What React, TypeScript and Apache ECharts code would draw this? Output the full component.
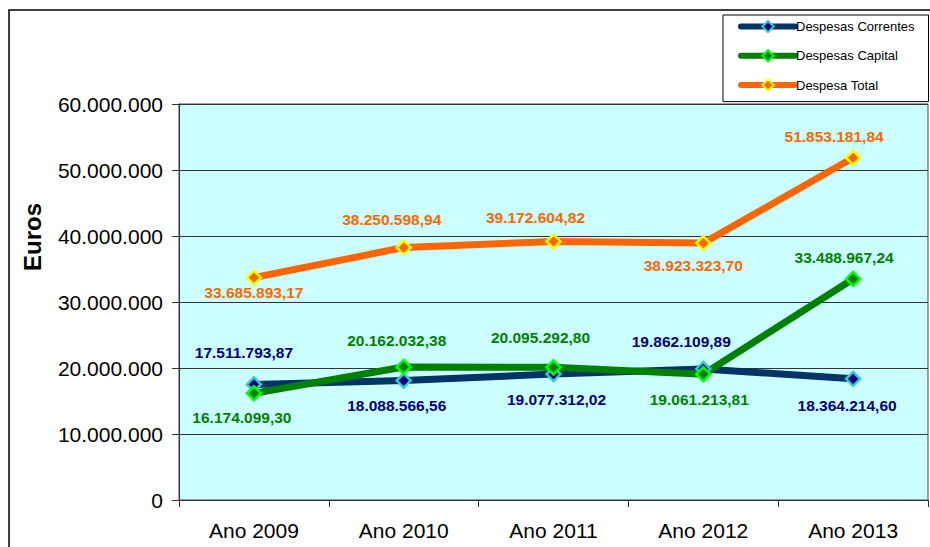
import React, { useEffect, useRef } from "react";
import * as echarts from "echarts";

const categories = ["Ano 2009", "Ano 2010", "Ano 2011", "Ano 2012", "Ano 2013"];
const correntes = [17511793.87, 18088566.56, 19077312.02, 19862109.89, 18364214.6];
const capital = [16174099.3, 20162032.38, 20095292.8, 19061213.81, 33488967.24];
const total = [33685893.17, 38250598.94, 39172604.82, 38923323.7, 51853181.84];
const seriesNames = ["Despesas Correntes", "Despesas Capital", "Despesa Total"];
const yTicks = { min: 0, max: 60000000, interval: 10000000 };

// label placement per point (style): [dx, dy] of the label centre from the marker
const correntesOff = [[-10, -32], [-7, 25], [3, 25], [-22, -27], [-6, 27]];
const capitalOff = [[-12, 24], [-7, -26], [-13, -30], [-4, 25], [-9, -21]];
const totalOff = [[0, 15], [-12, -28], [-18, -24], [-10, 22], [-19, -21]];

const FONT = "Arial, 'Liberation Sans', sans-serif";

function fmt(v: number, dec: number): string {
  const parts = v.toFixed(dec).split(".");
  const int = parts[0].replace(/\B(?=(\d{3})+(?!\d))/g, ".");
  return parts[1] ? int + "," + parts[1] : int;
}

function makeSeries(
  name: string,
  values: number[],
  off: number[][],
  lineColor: string,
  fill: string,
  border: string,
  labelColor: string
) {
  return {
    name,
    type: "line",
    data: values.map((v, i) => ({
      value: v,
      label: { position: "inside", offset: off[i] },
    })),
    lineStyle: { color: lineColor, width: 7, cap: "round", join: "round" },
    itemStyle: { color: fill, borderColor: border, borderWidth: 2.5 },
    symbol: "diamond",
    symbolSize: 14,
    showAllSymbol: true,
    label: {
      show: true,
      color: labelColor,
      fontFamily: FONT,
      fontWeight: "bold",
      fontSize: 15.5,
      align: "center",
      verticalAlign: "middle",
      formatter: (p: any) => fmt(p.value, 2),
    },
    emphasis: { disabled: true },
  };
}

export default function App() {
  const ref = useRef<HTMLDivElement>(null);
  useEffect(() => {
    document.body.style.margin = "0";
    const chart = echarts.init(ref.current!, null, { renderer: "svg" });
    chart.setOption({
      animation: false,
      backgroundColor: "#fff",
      textStyle: { fontFamily: FONT },
      grid: {
        left: 179,
        top: 104,
        right: 2,
        bottom: 47,
        show: true,
        backgroundColor: "#CCFFFF",
        borderColor: "#444",
        borderWidth: 1,
      },
      legend: {
        orient: "vertical",
        left: 723,
        top: 15,
        padding: [5, 14, 10, 15],
        itemWidth: 54,
        itemHeight: 14,
        itemGap: 16,
        borderColor: "#000",
        borderWidth: 1,
        backgroundColor: "#fff",
        lineStyle: { width: 6, cap: "round" },
        textStyle: { fontFamily: FONT, fontSize: 13, color: "#000", padding: [0, 0, 0, -4] },
        data: seriesNames,
      },
      graphic: [
        {
          type: "rect",
          shape: { x: 9, y: 10, width: 1000, height: 700 },
          style: { fill: "none", stroke: "#000", lineWidth: 1.5 },
          z: -1,
          silent: true,
        },
        {
          type: "text",
          x: 32,
          y: 237,
          rotation: Math.PI / 2,
          style: {
            text: "Euros",
            fontFamily: FONT,
            fontSize: 24,
            fontWeight: "bold",
            fill: "#000",
            align: "center",
            verticalAlign: "middle",
          },
          silent: true,
        },
      ],
      xAxis: {
        type: "category",
        data: categories,
        boundaryGap: true,
        axisLine: { lineStyle: { color: "#333", width: 1 } },
        axisTick: { show: true, length: 7, lineStyle: { color: "#333" } },
        axisLabel: { fontSize: 21, color: "#000", margin: 20, fontFamily: FONT },
      },
      yAxis: {
        type: "value",
        min: yTicks.min,
        max: yTicks.max,
        interval: yTicks.interval,
        axisLine: { show: true, lineStyle: { color: "#333", width: 1 } },
        axisTick: { show: true, length: 7, lineStyle: { color: "#333" } },
        axisLabel: {
          fontSize: 21,
          color: "#000",
          margin: 16,
          fontFamily: FONT,
          formatter: (v: number) => fmt(v, 0),
        },
        splitLine: { show: true, lineStyle: { color: "#333", width: 1 } },
      },
      series: [
        makeSeries(seriesNames[0], correntes, correntesOff, "#003366", "#000080", "#33CCCC", "#000080"),
        makeSeries(seriesNames[1], capital, capitalOff, "#008000", "#008000", "#00FF00", "#008000"),
        makeSeries(seriesNames[2], total, totalOff, "#FF6600", "#FF6600", "#FFFF00", "#FF6600"),
      ],
    });
    return () => chart.dispose();
  }, []);
  return <div ref={ref} style={{ width: 930, height: 547 }} />;
}
